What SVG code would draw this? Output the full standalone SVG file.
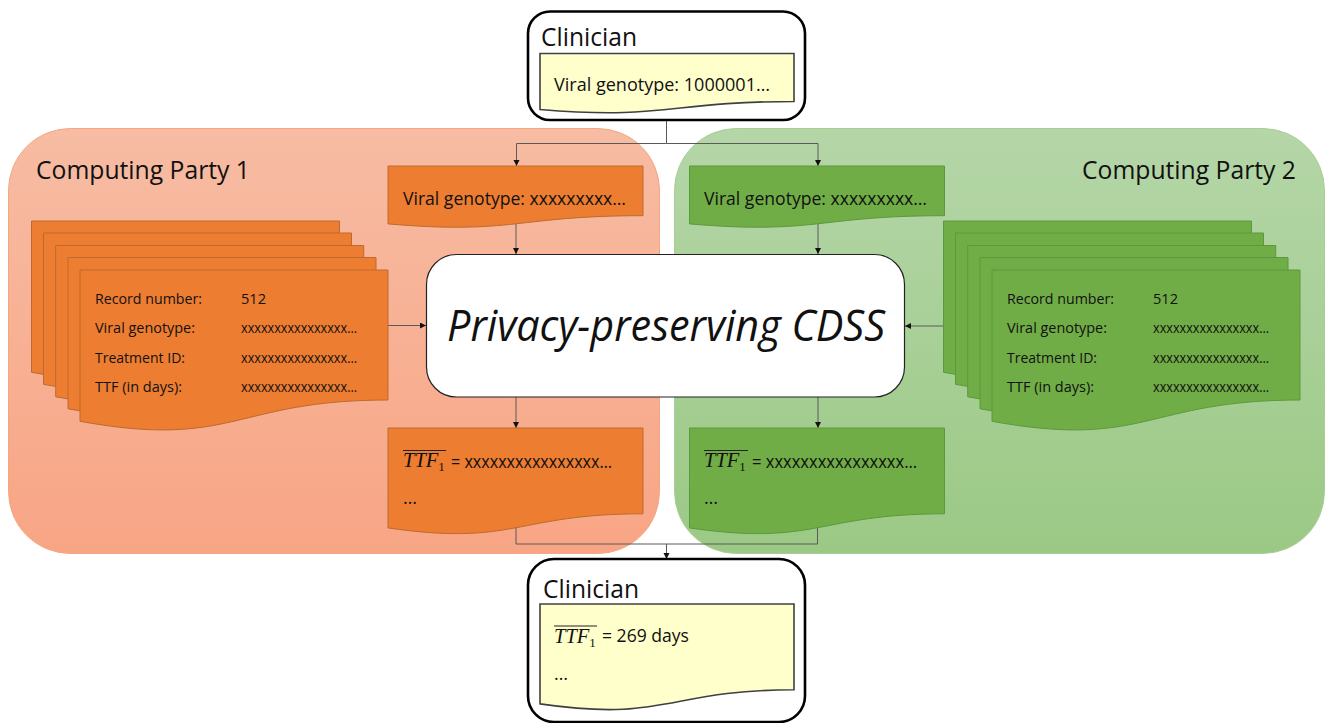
<svg xmlns="http://www.w3.org/2000/svg" xmlns:xlink="http://www.w3.org/1999/xlink" width="1325" height="723" viewBox="0 0 1325 723">
<style>
text{font-family:"Open Sans","Noto Sans","Liberation Sans",sans-serif;fill:#111}
.title{font-size:26px}
.doc{font-size:18px}
.rec{font-size:14.800px}
text.math{font-family:"Liberation Serif",serif;font-style:italic;font-size:20.500px}
.sub{font-style:normal;font-size:13px}
.o{fill:#ED7D31;stroke:#BD6A2E;stroke-width:1}
.g{fill:#70AD47;stroke:#5B9A3C;stroke-width:1}
.y{fill:#FFFFCC;stroke:#404040;stroke-width:1.6}
.frame{fill:#fff;stroke:#000;stroke-width:2.6}
.conn path{fill:none;stroke:#5a5a5a;stroke-width:1}
.ov{stroke:#222;stroke-width:1}
</style>
<defs>
<linearGradient id="po" x1="0" y1="0" x2="0" y2="1"><stop offset="0" stop-color="#F7BCA3"/><stop offset="1" stop-color="#F8A585"/></linearGradient>
<linearGradient id="pg" x1="0" y1="0" x2="0" y2="1"><stop offset="0" stop-color="#B5D6A8"/><stop offset="1" stop-color="#9BC985"/></linearGradient>
<marker id="ah" markerUnits="userSpaceOnUse" markerWidth="7" markerHeight="7" refX="6" refY="3" orient="auto"><path d="M0 0L6 3L0 6Z" fill="#111"/></marker>
<path id="rec" d="M0 0H308V130C154 130 154 179.400 0 151.300Z"/>
<path id="small" d="M0 0H255V49.700C127.500 49.700 127.500 68.700 0 57.900Z"/>
<path id="out" d="M0 0H255V85.800C127.500 85.800 127.500 118.500 0 99.900Z"/>
</defs>

<g id="party1"><rect x="8.500" y="128.500" width="651" height="425" rx="62" fill="url(#po)" stroke="#F4A67E"/>
<text class="title" x="36" y="179" textLength="214" lengthAdjust="spacingAndGlyphs">Computing Party 1</text></g>
<g id="party2"><rect x="674.500" y="128.500" width="650" height="425" rx="62" fill="url(#pg)" stroke="#A6CF92"/>
<text class="title" x="1082" y="179" textLength="214" lengthAdjust="spacingAndGlyphs">Computing Party 2</text></g>

<g class="conn" id="connectors">
<path d="M666.500 120V143.500H516.500V166" marker-end="url(#ah)"/>
<path d="M666.500 143.500H818V166" marker-end="url(#ah)"/>
<path d="M516 224V254" marker-end="url(#ah)"/>
<path d="M818 224V254" marker-end="url(#ah)"/>
<path d="M388 325.500H426" marker-end="url(#ah)"/>
<path d="M943 326H905" marker-end="url(#ah)"/>
<path d="M516 397V428" marker-end="url(#ah)"/>
<path d="M818 397V428" marker-end="url(#ah)"/>
<path d="M516 526V544H817.500V526"/>
<path d="M666.500 544V559" marker-end="url(#ah)"/>
</g>

<g id="clinician-top">
<rect class="frame" x="528" y="11.500" width="277" height="108.500" rx="22"/>
<text class="title" x="541" y="46" textLength="96" lengthAdjust="spacingAndGlyphs">Clinician</text>
<path class="y" transform="translate(540 53.500)" d="M0 0H254V48C127 48 127 66.500 0 56Z"/>
<text class="doc" x="554" y="91" textLength="216" lengthAdjust="spacingAndGlyphs">Viral genotype: 1000001…</text>
</g>

<g id="query-1"><use xlink:href="#small" href="#small" class="o" x="388" y="166"/>
<text class="doc" x="403" y="205" textLength="223" lengthAdjust="spacingAndGlyphs">Viral genotype: xxxxxxxxx…</text></g>
<g id="query-2"><use xlink:href="#small" href="#small" class="g" x="689.500" y="166"/>
<text class="doc" x="704" y="205" textLength="223" lengthAdjust="spacingAndGlyphs">Viral genotype: xxxxxxxxx…</text></g>

<g id="cdss"><rect x="426.500" y="254.500" width="478" height="142.500" rx="30" fill="#fff" stroke="#222" stroke-width="1.200"/>
<text x="447" y="341" font-size="43" font-style="italic" textLength="438" lengthAdjust="spacingAndGlyphs">Privacy-preserving CDSS</text></g>

<g id="records-1" class="o">
<use xlink:href="#rec" href="#rec" x="31.500" y="221"/><use xlink:href="#rec" href="#rec" x="43.500" y="233"/><use xlink:href="#rec" href="#rec" x="55.700" y="245.500"/><use xlink:href="#rec" href="#rec" x="68" y="257.500"/><use xlink:href="#rec" href="#rec" x="80" y="270"/>
</g>
<g id="records-1-text" class="rec">
<text x="95" y="304" textLength="107" lengthAdjust="spacingAndGlyphs">Record number:</text><text x="241" y="304" textLength="25" lengthAdjust="spacingAndGlyphs">512</text>
<text x="95" y="333" textLength="100" lengthAdjust="spacingAndGlyphs">Viral genotype:</text><text x="241" y="333" textLength="116" lengthAdjust="spacingAndGlyphs">xxxxxxxxxxxxxxxx…</text>
<text x="95" y="363" textLength="90" lengthAdjust="spacingAndGlyphs">Treatment ID:</text><text x="241" y="363" textLength="116" lengthAdjust="spacingAndGlyphs">xxxxxxxxxxxxxxxx…</text>
<text x="95" y="392" textLength="87" lengthAdjust="spacingAndGlyphs">TTF (in days):</text><text x="241" y="392" textLength="116" lengthAdjust="spacingAndGlyphs">xxxxxxxxxxxxxxxx…</text>
</g>

<g id="records-2" class="g">
<use xlink:href="#rec" href="#rec" x="943.500" y="221"/><use xlink:href="#rec" href="#rec" x="955.500" y="233"/><use xlink:href="#rec" href="#rec" x="967.700" y="245.500"/><use xlink:href="#rec" href="#rec" x="980" y="257.500"/><use xlink:href="#rec" href="#rec" x="992" y="270"/>
</g>
<g id="records-2-text" class="rec">
<text x="1007" y="304" textLength="107" lengthAdjust="spacingAndGlyphs">Record number:</text><text x="1153" y="304" textLength="25" lengthAdjust="spacingAndGlyphs">512</text>
<text x="1007" y="333" textLength="100" lengthAdjust="spacingAndGlyphs">Viral genotype:</text><text x="1153" y="333" textLength="116" lengthAdjust="spacingAndGlyphs">xxxxxxxxxxxxxxxx…</text>
<text x="1007" y="363" textLength="90" lengthAdjust="spacingAndGlyphs">Treatment ID:</text><text x="1153" y="363" textLength="116" lengthAdjust="spacingAndGlyphs">xxxxxxxxxxxxxxxx…</text>
<text x="1007" y="392" textLength="87" lengthAdjust="spacingAndGlyphs">TTF (in days):</text><text x="1153" y="392" textLength="116" lengthAdjust="spacingAndGlyphs">xxxxxxxxxxxxxxxx…</text>
</g>

<g id="result-1"><use xlink:href="#out" href="#out" class="o" x="388" y="428"/>
<line class="ov" x1="403" y1="450.500" x2="446" y2="450.500"/>
<text class="math" x="403" y="467">TTF<tspan class="sub" dy="4">1</tspan></text>
<text class="doc" x="451" y="468" textLength="161" lengthAdjust="spacingAndGlyphs">= xxxxxxxxxxxxxxxx…</text>
<text class="doc" x="403" y="504">…</text></g>
<g id="result-2"><use xlink:href="#out" href="#out" class="g" x="689.500" y="428"/>
<line class="ov" x1="704" y1="450.500" x2="748" y2="450.500"/>
<text class="math" x="704" y="467">TTF<tspan class="sub" dy="4">1</tspan></text>
<text class="doc" x="752" y="468" textLength="165" lengthAdjust="spacingAndGlyphs">= xxxxxxxxxxxxxxxx…</text>
<text class="doc" x="704" y="504">…</text></g>

<g id="clinician-bottom">
<rect class="frame" x="528" y="559" width="277" height="163" rx="26"/>
<text class="title" x="543" y="598" textLength="96" lengthAdjust="spacingAndGlyphs">Clinician</text>
<path class="y" transform="translate(540 604)" d="M0 0H254V85.800C127 85.800 127 118.500 0 99.900Z"/>
<line class="ov" x1="554" y1="626" x2="597" y2="626"/>
<text class="math" x="554" y="643">TTF<tspan class="sub" dy="4">1</tspan></text>
<text class="doc" x="602" y="642" textLength="87" lengthAdjust="spacingAndGlyphs">= 269 days</text>
<text class="doc" x="554" y="680">…</text>
</g>
</svg>
